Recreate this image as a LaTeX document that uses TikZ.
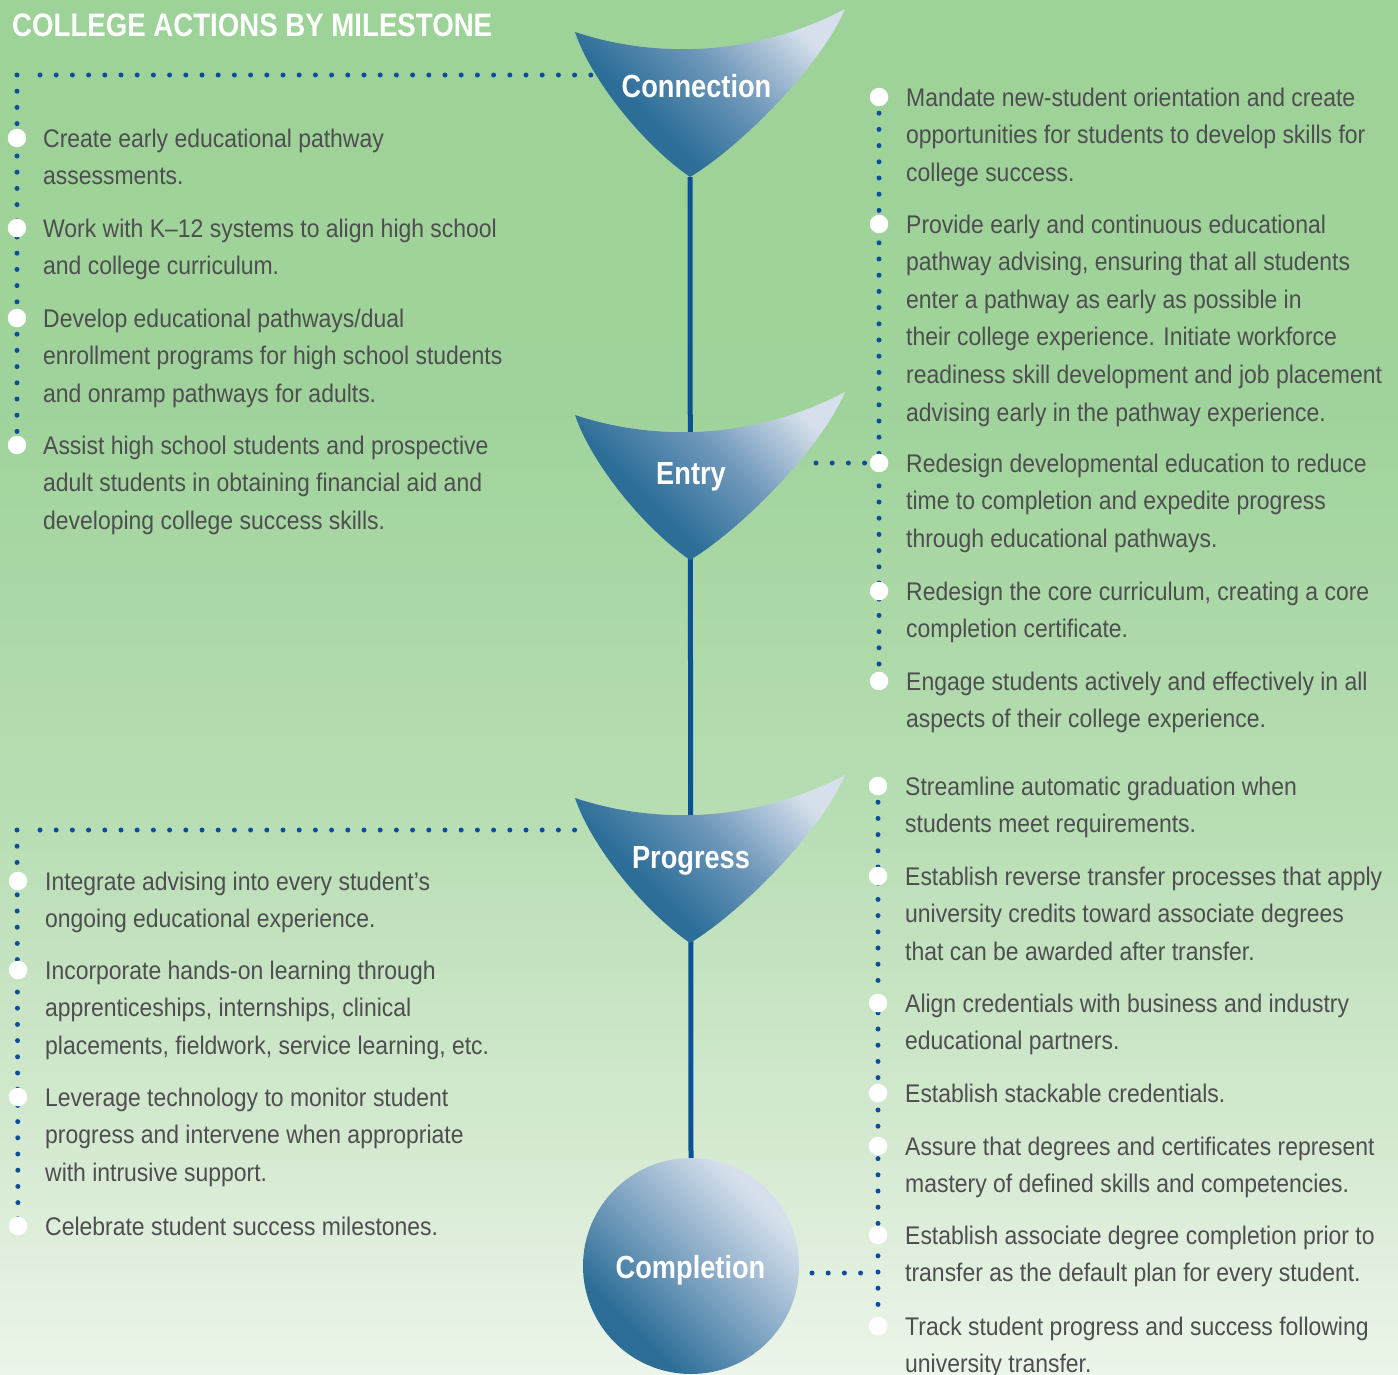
\documentclass[tikz,border=0pt]{standalone}
\usepackage{fontspec}
\setmainfont{Liberation Sans}
\newfontfamily\bodyfont{Liberation Sans}[FakeStretch=0.9]
\newfontfamily\headfont{Liberation Sans Bold}[FakeStretch=0.85]
\definecolor{bgtop}{RGB}{157,210,152}
\definecolor{bgupper}{RGB}{160,211,155}
\definecolor{bgmid}{RGB}{184,222,180}
\definecolor{bglow}{RGB}{214,234,210}
\definecolor{bgbot}{RGB}{236,245,234}
\definecolor{funnelDark}{RGB}{44,110,152}
\definecolor{funnelMid}{RGB}{112,152,186}
\definecolor{funnelLight}{RGB}{214,224,236}
\definecolor{circMid}{RGB}{128,164,194}
\definecolor{stemblue}{RGB}{10,82,152}
\definecolor{dotblue}{RGB}{12,78,155}
\definecolor{txt}{RGB}{78,78,80}
\pgfdeclareverticalshading{bgshade}{100bp}{color(0bp)=(bgbot); color(25bp)=(bgbot); color(33bp)=(bglow); color(45bp)=(bgmid); color(60bp)=(bgupper); color(75bp)=(bgtop); color(100bp)=(bgtop)}
\pgfdeclarehorizontalshading{funnelsh}{100bp}{color(0bp)=(funnelDark); color(36bp)=(funnelDark); color(55bp)=(funnelMid); color(75bp)=(funnelLight); color(100bp)=(funnelLight)}
\pgfdeclarehorizontalshading{circsh}{100bp}{color(0bp)=(funnelDark); color(30bp)=(funnelDark); color(50bp)=(circMid); color(72bp)=(funnelLight); color(100bp)=(funnelLight)}
\newcommand\drawfunnel[1]{\shade[funnel, shift={(#1)}] (-115,-145) .. controls (-40,-120) and (60,-118) .. (155,-168) .. controls (130,-110) and (50,-30) .. (0,0) .. controls (-50,-35) and (-100,-100) .. cycle;}
\begin{document}
\begin{tikzpicture}[x=1pt,y=-1pt,
  dots/.style={draw=dotblue, line width=5pt, line cap=round, dash pattern=on 0pt off 16.2pt},
  bullet/.style={circle, fill=white, minimum size=18.5pt, inner sep=0pt},
  item/.style={anchor=base west, inner sep=0pt, align=left, text=txt, font=\bodyfont\fontsize{25.5}{37.6}\selectfont},
  ms/.style={anchor=base, inner sep=0pt, text=white, font=\headfont\fontsize{32}{36}\selectfont},
  funnel/.style={shading=funnelsh, shading angle=45},
  stemline/.style={draw=stemblue, line width=5pt}
]
\useasboundingbox (0,0) rectangle (1398,1374);
\shade[shading=bgshade] (0,0) rectangle (1398,1374);

% coordinates
\coordinate (conntip) at (690,177);
\coordinate (entrytip) at (690,560);
\coordinate (progtip) at (690,943);
% left top bullets
\coordinate (a1) at (17,138);
\coordinate (a2) at (17,228);
\coordinate (a3) at (17,318);
\coordinate (a4) at (17,445);
\coordinate (acorner) at (17,75);
\coordinate (ahstart) at (40,75);
\coordinate (ahend) at (600,75);
% right entry bullets
\coordinate (b1) at (879,97);
\coordinate (b2) at (879,224);
\coordinate (b3) at (879,463);
\coordinate (b4) at (879,591);
\coordinate (b5) at (879,681);
\coordinate (bhstart) at (816,463);
\coordinate (bhend) at (865,463);
% left progress bullets
\coordinate (c1) at (18,881);
\coordinate (c2) at (18,970);
\coordinate (c3) at (18,1097);
\coordinate (c4) at (18,1226);
\coordinate (ccorner) at (17,830);
\coordinate (chstart) at (40,830);
\coordinate (chend) at (585,830);
% right completion bullets
\coordinate (d1) at (878,786);
\coordinate (d2) at (878,876);
\coordinate (d3) at (878,1003);
\coordinate (d4) at (878,1093);
\coordinate (d5) at (878,1146);
\coordinate (d6) at (878,1235);
\coordinate (d7) at (878,1326);
\coordinate (dhstart) at (812,1273);
\coordinate (dhend) at (864,1273);

% dotted leaders
\draw[dots] (acorner) -- (a4);
\draw[dots] (ahstart) -- (ahend);
\draw[dots] (b1) -- (b5);
\draw[dots] (bhstart) -- (bhend);
\draw[dots] (ccorner) -- (c4);
\draw[dots] (chstart) -- (chend);
\draw[dots] (d1) -- (d7);
\draw[dots] (dhstart) -- (dhend);

% completion circle
\node[circle, minimum size=216pt, inner sep=0pt, shading=circsh, shading angle=45] (compl) at (691,1266) {};
% stem
\draw[stemline] (conntip) -- (compl.north);
% funnels
\drawfunnel{conntip}
\drawfunnel{entrytip}
\drawfunnel{progtip}

% milestone labels
\node[ms] (lconn) at (696.5,97) {Connection};
\node[ms] (lentry) at (691,484) {Entry};
\node[ms] (lprog) at (691,868) {Progress};
\node[ms] (lcompl) at (690.5,1278) {Completion};

% title
\node[anchor=base west, inner sep=0pt, text=white, font=\headfont\fontsize{32.5}{36}\selectfont] (title) at (12,36) {COLLEGE ACTIONS BY MILESTONE};

% bullets
\foreach \p in {a1,a2,a3,a4,b1,b2,b3,b4,b5,c1,c2,c3,c4,d1,d2,d3,d4,d5,d6,d7}
  \node[bullet] (bul-\p) at (\p) {};

% texts (anchor = baseline of the last line)
% left top
\node[item] (ta1) at (43,184.6) {Create early educational pathway\\assessments.};
\node[item] (ta2) at (43,274.6) {Work with K–12 systems to align high school\\and college curriculum.};
\node[item] (ta3) at (43,402.2) {Develop educational pathways/dual\\enrollment programs for high school students\\and onramp pathways for adults.};
\node[item] (ta4) at (43,529.2) {Assist high school students and prospective\\adult students in obtaining financial aid and\\developing college success skills.};
% right entry
\node[item] (tb1) at (906,181.2) {Mandate new-student orientation and create\\opportunities for students to develop skills for\\college success.};
\node[item] (tb2) at (906,421) {Provide early and continuous educational\\pathway advising, ensuring that all students\\enter a pathway as early as possible in\\their college experience. Initiate workforce\\readiness skill development and job placement\\advising early in the pathway experience.};
\node[item] (tb3) at (906,547.2) {Redesign developmental education to reduce\\time to completion and expedite progress\\through educational pathways.};
\node[item] (tb4) at (906,637.6) {Redesign the core curriculum, creating a core\\completion certificate.};
\node[item] (tb5) at (906,727.6) {Engage students actively and effectively in all\\aspects of their college experience.};
% left progress
\node[item] (tc1) at (45,927.6) {Integrate advising into every student’s\\ongoing educational experience.};
\node[item] (tc2) at (45,1054.2) {Incorporate hands-on learning through\\apprenticeships, internships, clinical\\placements, fieldwork, service learning, etc.};
\node[item] (tc3) at (45,1181.2) {Leverage technology to monitor student\\progress and intervene when appropriate\\with intrusive support.};
\node[item] (tc4) at (45,1235) {Celebrate student success milestones.};
% right completion
\node[item] (td1) at (905,832.6) {Streamline automatic graduation when\\students meet requirements.};
\node[item] (td2) at (905,960.2) {Establish reverse transfer processes that apply\\university credits toward associate degrees\\that can be awarded after transfer.};
\node[item] (td3) at (905,1049.6) {Align credentials with business and industry\\educational partners.};
\node[item] (td4) at (905,1102) {Establish stackable credentials.};
\node[item] (td5) at (905,1192.6) {Assure that degrees and certificates represent\\mastery of defined skills and competencies.};
\node[item] (td6) at (905,1281.6) {Establish associate degree completion prior to\\transfer as the default plan for every student.};
\node[item] (td7) at (905,1372.6) {Track student progress and success following\\university transfer.};
\end{tikzpicture}
\end{document}
